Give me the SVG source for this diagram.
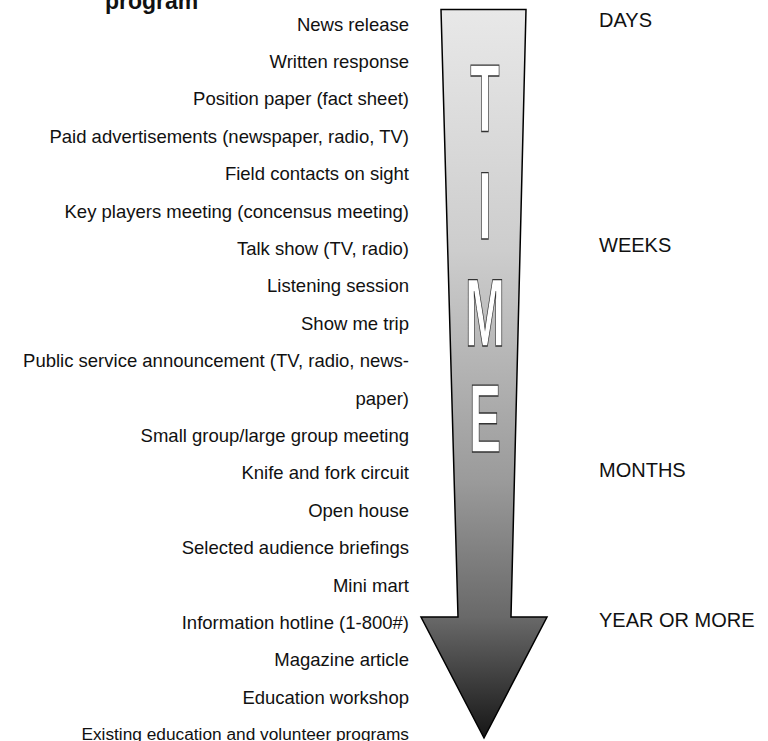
<svg xmlns="http://www.w3.org/2000/svg" width="768" height="741" viewBox="0 0 768 741">
<style>
.lbl{font-family:"Liberation Sans",Arial,sans-serif;font-size:18.5px;fill:#111;text-anchor:end}
.time{font-family:"Liberation Sans",Arial,sans-serif;font-size:20px;fill:#111}
.ttl{font-family:"Liberation Sans",Arial,sans-serif;font-size:23px;font-weight:bold;fill:#111}
.big{font-family:"Liberation Sans",Arial,sans-serif;font-size:48px;font-weight:bold;fill:#fff;stroke:#333;stroke-width:1;text-anchor:middle;vector-effect:non-scaling-stroke}
</style>
<defs>
<linearGradient id="g" gradientUnits="userSpaceOnUse" x1="0" y1="10" x2="0" y2="738">
<stop offset="0" stop-color="#e8e8e8"/>
<stop offset="0.33" stop-color="#cdcdcd"/>
<stop offset="0.645" stop-color="#9b9b9b"/>
<stop offset="0.834" stop-color="#696969"/>
<stop offset="1" stop-color="#161616"/>
</linearGradient>
</defs>
<text class="ttl" x="105" y="8.5">program</text>
<g id="arrow">
<polygon points="441,9.5 526,9.5 511,617 547,617 484,738 421,617 458,617" fill="url(#g)" stroke="#000" stroke-width="1.5" stroke-linejoin="miter"/>
<text class="big" transform="translate(485,132) scale(1,2)">T</text>
<text class="big" transform="translate(485,238.7) scale(1,2)">I</text>
<text class="big" transform="translate(485,346) scale(1,2)">M</text>
<text class="big" transform="translate(485,452.3) scale(1,2)">E</text>
</g>
<g id="methods">
<text class="lbl" x="409" y="30.5">News release</text>
<text class="lbl" x="409" y="67.9">Written response</text>
<text class="lbl" x="409" y="105.3">Position paper (fact sheet)</text>
<text class="lbl" x="409" y="142.7">Paid advertisements (newspaper, radio, TV)</text>
<text class="lbl" x="409" y="180.1">Field contacts on sight</text>
<text class="lbl" x="409" y="217.5">Key players meeting (concensus meeting)</text>
<text class="lbl" x="409" y="254.9">Talk show (TV, radio)</text>
<text class="lbl" x="409" y="292.3">Listening session</text>
<text class="lbl" x="409" y="329.7">Show me trip</text>
<text class="lbl" x="409" y="367.1">Public service announcement (TV, radio, news-</text>
<text class="lbl" x="409" y="404.5">paper)</text>
<text class="lbl" x="409" y="441.9">Small group/large group meeting</text>
<text class="lbl" x="409" y="479.3">Knife and fork circuit</text>
<text class="lbl" x="409" y="516.7">Open house</text>
<text class="lbl" x="409" y="554.1">Selected audience briefings</text>
<text class="lbl" x="409" y="591.5">Mini mart</text>
<text class="lbl" x="409" y="628.9">Information hotline (1-800#)</text>
<text class="lbl" x="409" y="666.3">Magazine article</text>
<text class="lbl" x="409" y="703.7">Education workshop</text>
<text class="lbl" x="409" y="740.3" style="font-size:17.3px">Existing education and volunteer programs</text>
</g>
<g id="timescale">
<text class="time" x="599" y="27">DAYS</text>
<text class="time" x="599" y="252">WEEKS</text>
<text class="time" x="599" y="477">MONTHS</text>
<text class="time" x="599" y="627">YEAR OR MORE</text>
</g>
</svg>
